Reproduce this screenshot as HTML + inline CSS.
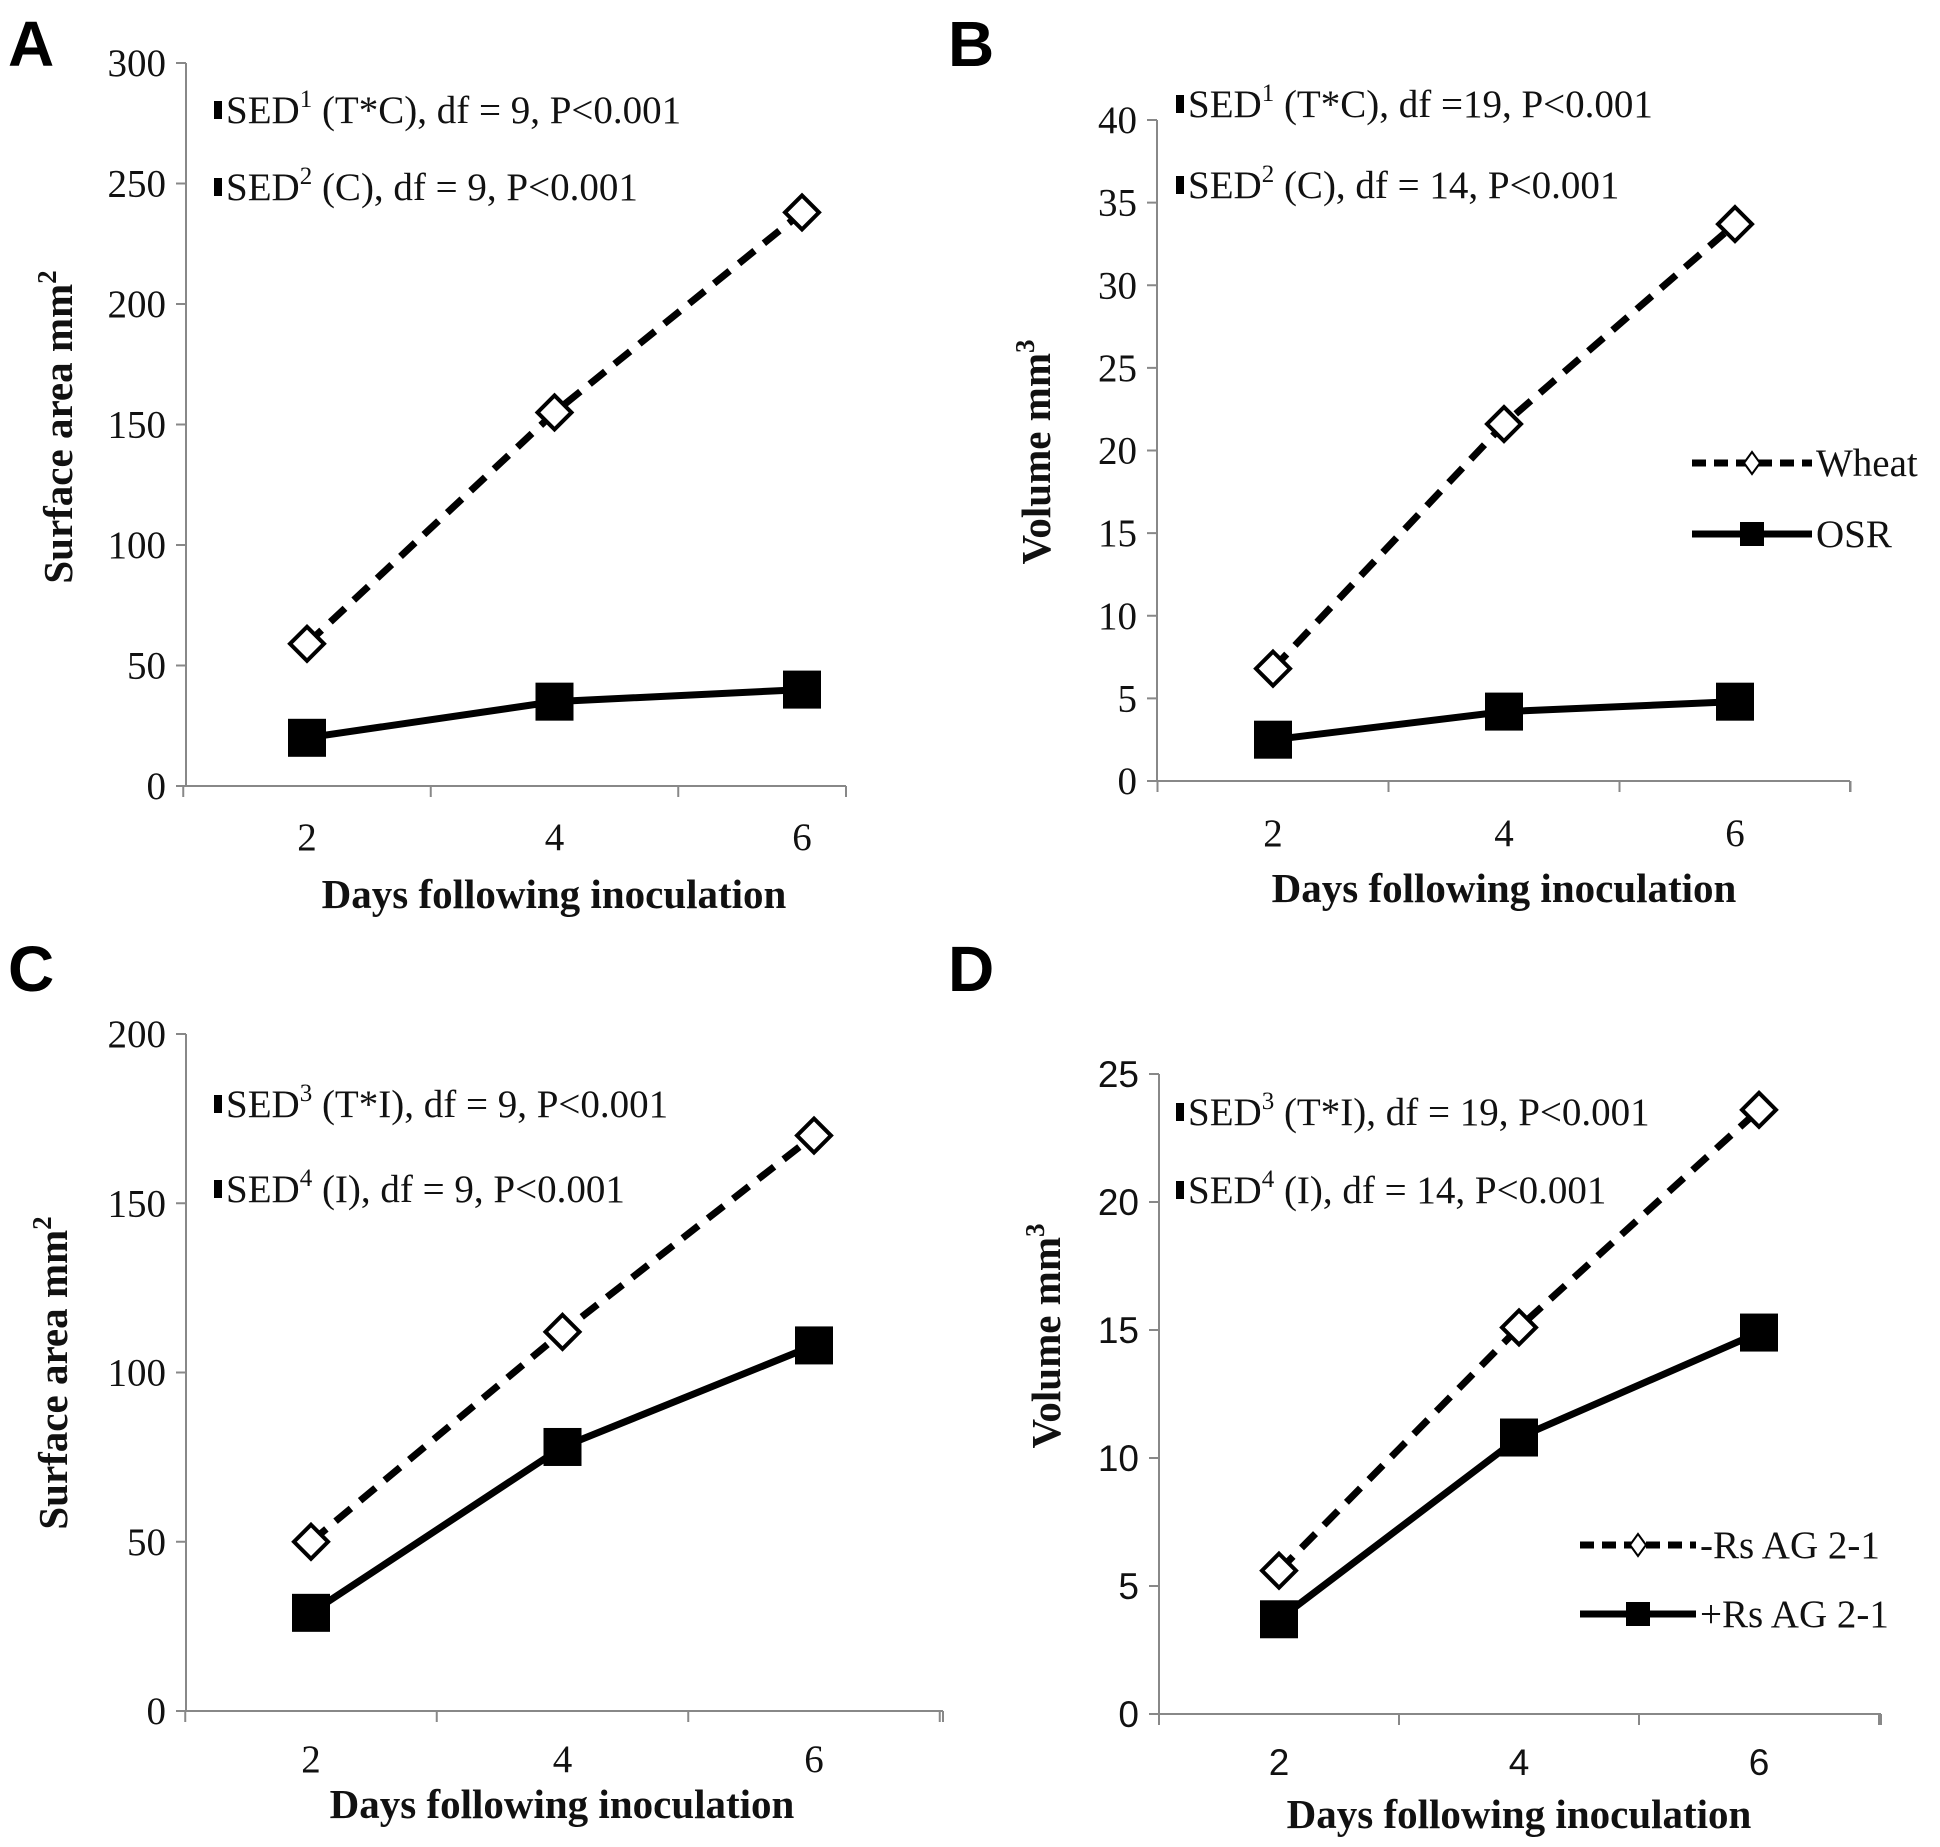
<!DOCTYPE html>
<html><head><meta charset="utf-8"><style>
html,body{margin:0;padding:0;background:#fff;}
svg{display:block;}
.tk{font-family:"Liberation Serif",serif;font-size:39px;fill:#111;}
.tks{font-family:"Liberation Sans",sans-serif;font-size:37px;fill:#111;}
.ax{font-family:"Liberation Serif",serif;font-size:41px;font-weight:bold;fill:#111;}
.sed{font-family:"Liberation Serif",serif;font-size:39px;fill:#111;}
.let{font-family:"Liberation Sans",sans-serif;font-size:64px;font-weight:bold;fill:#000;}
</style></head><body>
<svg id="fig" width="1940" height="1847" viewBox="0 0 1940 1847" xmlns="http://www.w3.org/2000/svg"></svg>
<script>
const categories = [2, 4, 6];
const aWheat = [59, 155, 238];
const aOSR = [20, 35, 40];
const bWheat = [6.8, 21.6, 33.7];
const bOSR = [2.5, 4.2, 4.8];
const cMinus = [50, 112, 170];
const cPlus = [29, 78, 108];
const dMinus = [5.6, 15.1, 23.6];
const dPlus = [3.7, 10.8, 14.9];
const aTicks = [0, 50, 100, 150, 200, 250, 300];
const bTicks = [0, 5, 10, 15, 20, 25, 30, 35, 40];
const cTicks = [0, 50, 100, 150, 200];
const dTicks = [0, 5, 10, 15, 20, 25];

const NS = "http://www.w3.org/2000/svg";
const svg = document.getElementById('fig');
function mk(tag, attrs, parent) {
  const e = document.createElementNS(NS, tag);
  for (const k in attrs) e.setAttribute(k, attrs[k]);
  (parent || svg).appendChild(e);
  return e;
}

const panels = [
  {id:'a', letter:'A', lx:8, ly:66, x0:186, x1:846, cx0:307, step:247.5, y0:786, yTop:63, yMax:300, ticks:aTicks, s1:aWheat, s2:aOSR, tickCls:'tk',
   ylab:'Surface area mm', sup:'2', ylx:72, yly:427, xlabY:908, xlabX:554, tickY:850,
   sed:[['1','(T*C), df = 9, P<0.001',123],['2','(C), df = 9, P<0.001',200]], sedX:226, legend:null},
  {id:'b', letter:'B', lx:948, ly:66, x0:1157, x1:1850, cx0:1273, step:231, y0:781, yTop:120, yMax:40, ticks:bTicks, s1:bWheat, s2:bOSR, tickCls:'tk',
   ylab:'Volume mm', sup:'3', ylx:1050, yly:452, xlabY:902, xlabX:1504, tickY:846,
   sed:[['1','(T*C), df =19, P<0.001',117],['2','(C), df = 14, P<0.001',198]], sedX:1188,
   legend:{names:['Wheat','OSR'], ys:[463,534]}},
  {id:'c', letter:'C', lx:8, ly:991, x0:186, x1:943, cx0:311, step:251.5, y0:1711, yTop:1034, yMax:200, ticks:cTicks, s1:cMinus, s2:cPlus, tickCls:'tk',
   ylab:'Surface area mm', sup:'2', ylx:67, yly:1373, xlabY:1818, xlabX:562, tickY:1772,
   sed:[['3','(T*I), df = 9, P<0.001',1117],['4','(I), df = 9, P<0.001',1202]], sedX:226, legend:null},
  {id:'d', letter:'D', lx:948, ly:991, x0:1159, x1:1881, cx0:1279, step:240, y0:1714, yTop:1074, yMax:25, ticks:dTicks, s1:dMinus, s2:dPlus, tickCls:'tks',
   ylab:'Volume mm', sup:'3', ylx:1060, yly:1336, xlabY:1828, xlabX:1519, tickY:1775,
   sed:[['3','(T*I), df = 19, P<0.001',1125],['4','(I), df = 14, P<0.001',1203]], sedX:1188,
   legend:{names:['-Rs AG 2-1','+Rs AG 2-1'], ys:[1545,1614]}}
];

panels.forEach(p => {
  const g = mk('g', {});
  
  
  const yS = v => p.y0 - (v / p.yMax) * (p.y0 - p.yTop);
  const xS = i => p.cx0 + i * p.step;

  const L = mk('text', {x:p.lx, y:p.ly, class:'let'}, g); L.textContent = p.letter;
  
  

  const ya = mk('line', {x1:p.x0, y1:p.yTop, x2:p.x0, y2:p.y0, stroke:'#888', 'stroke-width':2}, g);
  
  
  const xa = mk('line', {x1:p.x0, y1:p.y0, x2:p.x1, y2:p.y0, stroke:'#888', 'stroke-width':2}, g);
  
  
  p.ticks.forEach(t => {
    const y = yS(t);
    mk('line', {x1:p.x0 - 10, y1:y, x2:p.x0, y2:y, stroke:'#888', 'stroke-width':2}, g);
    const tl = mk('text', {x:p.x0 - 20, y:y + 13, 'text-anchor':'end', class:p.tickCls}, g);
    tl.textContent = t;
    
    
  });
  for (let i = 0; i <= categories.length; i++) {
    const x = p.cx0 - p.step / 2 + i * p.step;
    if (x <= p.x1 + 1) mk('line', {x1:x, y1:p.y0, x2:x, y2:p.y0 + 11, stroke:'#888', 'stroke-width':2}, g);
  }
  mk('line', {x1:p.x1, y1:p.y0, x2:p.x1, y2:p.y0 + 11, stroke:'#888', 'stroke-width':2}, g);
  categories.forEach((c, i) => {
    const tl = mk('text', {x:xS(i), y:p.tickY, 'text-anchor':'middle', class:p.tickCls}, g);
    tl.textContent = c;
    
    
  });
  const xl = mk('text', {x:p.xlabX, y:p.xlabY, 'text-anchor':'middle', class:'ax'}, g);
  xl.textContent = 'Days following inoculation';
  
  
  const yl = mk('text', {x:0, y:0, 'text-anchor':'middle', class:'ax', transform:`translate(${p.ylx},${p.yly}) rotate(-90)`}, g);
  yl.textContent = p.ylab;
  const ts = mk('tspan', {dy:-16, 'font-size':27}, yl); ts.textContent = p.sup;
  
  

  p.sed.forEach(s => {
    mk('rect', {x:p.sedX - 12, y:s[2] - 22, width:8, height:18, fill:'#000'}, g);
    const t = mk('text', {x:p.sedX, y:s[2], class:'sed'}, g);
    
    
    const a = mk('tspan', {}, t); a.textContent = 'SED';
    const b = mk('tspan', {dy:-16, 'font-size':25}, t); b.textContent = s[0];
    const c = mk('tspan', {dy:16}, t); c.textContent = ' ' + s[1];
  });

  const pts1 = p.s1.map((v, i) => xS(i) + ',' + yS(v)).join(' ');
  const pts2 = p.s2.map((v, i) => xS(i) + ',' + yS(v)).join(' ');
  const l1 = mk('polyline', {points:pts1, fill:'none', stroke:'#000', 'stroke-width':7, 'stroke-dasharray':'20 12'}, g);
  
  
  const l2 = mk('polyline', {points:pts2, fill:'none', stroke:'#000', 'stroke-width':7}, g);
  
  
  p.s1.forEach((v, i) => {
    const x = xS(i), y = yS(v), r = 17;
    const d = mk('polygon', {points:`${x},${y-r} ${x+r},${y} ${x},${y+r} ${x-r},${y}`, fill:'#fff', stroke:'#000', 'stroke-width':4}, g);
    
    
  });
  p.s2.forEach((v, i) => {
    const x = xS(i), y = yS(v), h = 19;
    const r = mk('rect', {x:x-h, y:y-h, width:2*h, height:2*h, fill:'#000'}, g);
    
    
  });

  if (p.legend) {
    const lg = p.legend;
    const lx0 = p.id === 'b' ? 1692 : 1580, lx1 = p.id === 'b' ? 1812 : 1696;
    [0, 1].forEach(k => {
      const y = lg.ys[k], mx = (lx0 + lx1) / 2;
      const e = mk('g', {}, g);
      
      
      if (k === 0) {
        mk('line', {x1:lx0, y1:y, x2:lx1, y2:y, stroke:'#000', 'stroke-width':7, 'stroke-dasharray':'14 8'}, e);
        mk('polygon', {points:`${mx},${y-11} ${mx+8},${y} ${mx},${y+11} ${mx-8},${y}`, fill:'#fff', stroke:'#000', 'stroke-width':2}, e);
      } else {
        mk('line', {x1:lx0, y1:y, x2:lx1, y2:y, stroke:'#000', 'stroke-width':7}, e);
        mk('rect', {x:mx-12, y:y-12, width:24, height:24, fill:'#000'}, e);
      }
      const t = mk('text', {x:lx1 + 4, y:y + 13, class:'sed'}, e);
      t.textContent = lg.names[k];
    });
  }
});
</script>
</body></html>
